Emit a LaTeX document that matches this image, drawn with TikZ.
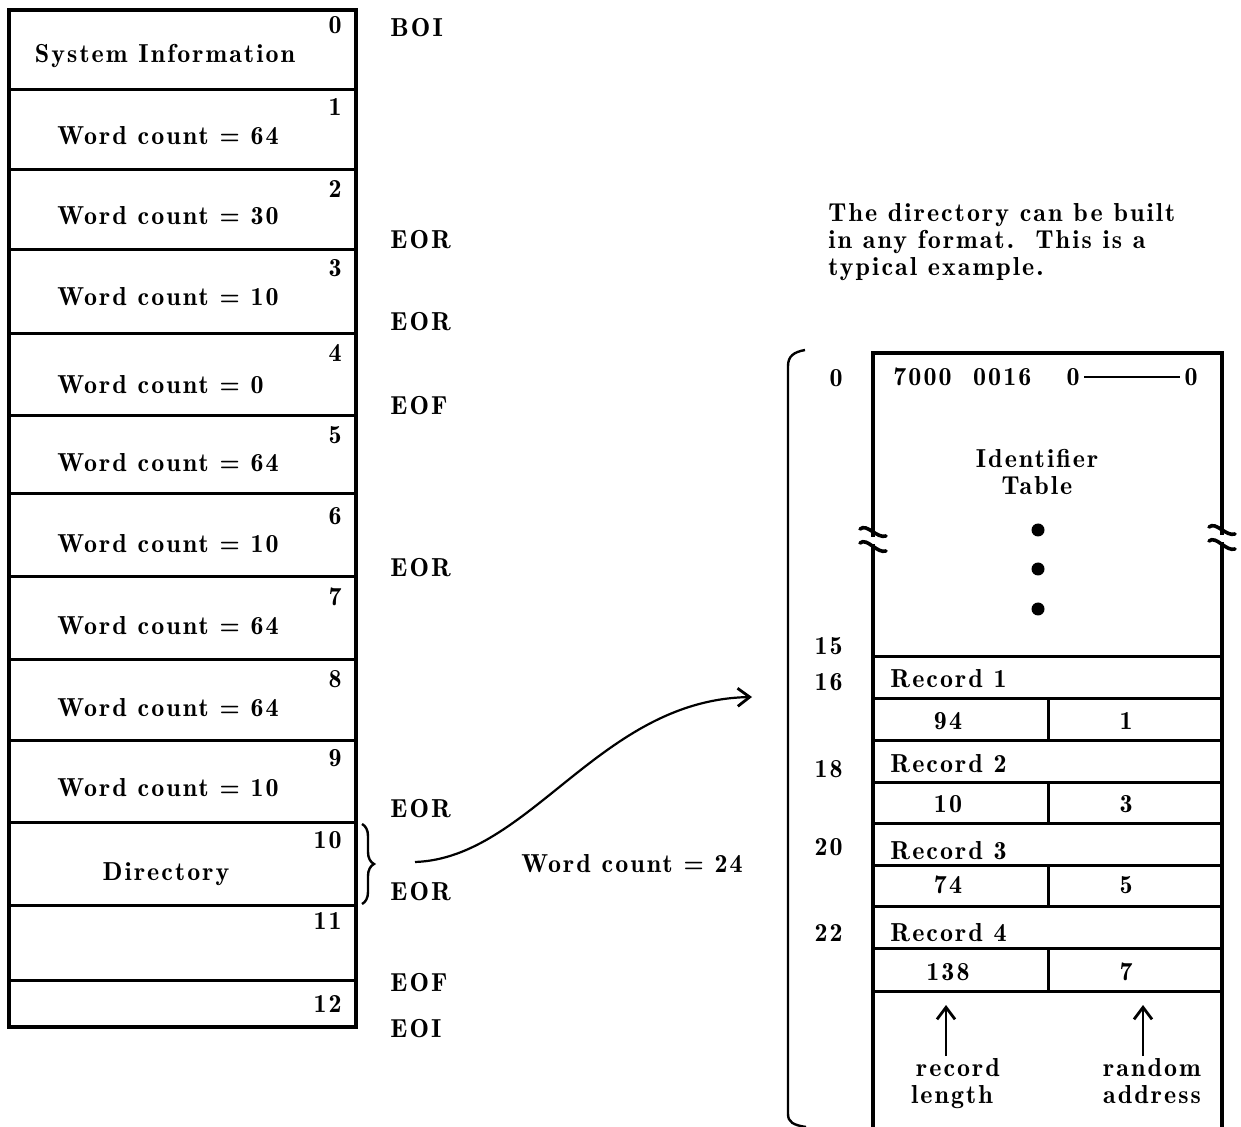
\documentclass[tikz,border=0pt]{standalone}
\usepackage{fontspec}
\newfontfamily\dfont{lmromandemi10-regular.otf}[LetterSpace=8]
\usetikzlibrary{arrows.meta,decorations.pathreplacing}
\begin{document}
\begin{tikzpicture}[x=0.5pt,y=-0.5pt,
  txt/.style={inner sep=0pt,font=\dfont\fontsize{13}{15}\selectfont},
  num/.style={txt,anchor=base east},
  lab/.style={txt,anchor=base west},
  ctr/.style={txt,anchor=base},
  frame/.style={line width=1.6pt},
  rule/.style={line width=1.5pt},
  tip/.style={-{Straight Barb[length=6pt,width=9pt,line width=1.4pt]}}]
\useasboundingbox[fill=white] (0,0) rectangle (1241,1127);

% ---------- left column ----------
\draw[frame] (9,10) rectangle (356,1027);
\foreach \yy in {90,170,250,334,416,494,577,659,740,822,905,980}
  \draw[rule] (9,\yy) -- (356,\yy);

\foreach \n/\yy in {0/34,1/116,2/198,3/277,4/362,5/444,6/525,7/606,8/687,9/766,10/848,11/929,12/1012}
  \node[num] (n\n) at (342,\yy) {\n};

\node[ctr] (sys) at (165,63) {System Information};
\foreach \k/\v/\yy in {1/64/145,2/30/225,3/10/306,4/0/394,5/64/472,6/10/553,7/64/634,8/64/716,9/10/796}
  \node[lab] (w\k) at (57,\yy) {Word count = \v};
\node[ctr] (dir) at (166,880) {Directory};

\foreach \t/\yy [count=\i] in {BOI/37,EOR/249,EOR/331,EOF/415,EOR/577,EOR/817,EOR/900,EOF/991,EOI/1037}
  \node[lab] (m\i) at (390,\yy) {\t};

% brace and connector
\draw[line width=1.2pt,decorate,decoration={brace,amplitude=6pt}] (362,824) -- (362,904);
\coordinate (cs) at (415,862);
\coordinate (ce) at (752,697);
\draw[line width=1.1pt,tip] (cs) .. controls (530,858) and (600,700) .. (ce);
\node[lab] (wc24) at (521,872) {Word count = 24};

% paragraph
\node[lab] (p1) at (828,222) {The directory can be built};
\node[lab] (p2) at (828,249) {in any format.\ \ This is a};
\node[lab] (p3) at (828,276) {typical example.};

% ---------- right directory ----------
\draw[line width=1.2pt] (805,350) .. controls (794,352) and (788,356) .. (788,366) -- (788,1114) .. controls (788,1122) and (793,1125) .. (806,1127);

\draw[frame] (873,1127) -- (873,353) -- (1222,353) -- (1222,1127);
\foreach \yy in {656,698,740,782,823,865,906,948,991}
  \draw[rule] (873,\yy) -- (1222,\yy);
\foreach \ya/\yb in {698/740,782/823,865/906,948/991}
  \draw[rule] (1048,\ya) -- (1048,\yb);

% break marks
\foreach \bx/\by in {873/540,1222/538}{
  \fill[white] (\bx-3,\by-3) rectangle (\bx+3,\by+4);
  \draw[line width=1.8pt,line cap=round] (\bx-13,\by-11) .. controls (\bx-6,\by-17) and (\bx+4,\by-1) .. (\bx+13,\by-4);
  \draw[line width=1.8pt,line cap=round] (\bx-13,\by+3) .. controls (\bx-6,\by-3) and (\bx+4,\by+14) .. (\bx+13,\by+11);
}

\foreach \n/\yy in {0/387,15/654,16/690,18/777,20/855,22/941}
  \node[num] (a\n) at (843,\yy) {\n};

\node[lab] (hdr) at (893,386) {7000\ \ 0016};
\node[ctr] (z1) at (1073,386) {0};
\node[ctr] (z2) at (1191,386) {0};
\coordinate (zl1) at (1084,377);
\coordinate (zl2) at (1180,377);
\draw[line width=1.1pt] (zl1) -- (zl2);

\node[ctr] (id1) at (1037,468) {Identifier};
\node[ctr] (id2) at (1037,495) {Table};
\foreach \yy in {530,569,609} \fill (1038,\yy) circle (6.5);

\foreach \k/\yy in {1/687,2/772,3/859,4/941}
  \node[lab] (rec\k) at (890,\yy) {Record \k};
\foreach \a/\b/\yy [count=\i] in {94/1/729,10/3/812,74/5/893,138/7/980}{
  \node[ctr] (len\i) at (948,\yy) {\a};
  \node[ctr] (adr\i) at (1126,\yy) {\b};
}

\node[ctr] (rl1) at (958,1076) {record};
\node[ctr] (rl2) at (952,1103) {length};
\node[ctr] (ra1) at (1152,1076) {random};
\node[ctr] (ra2) at (1152,1103) {address};
\coordinate (t1) at (946,1005);
\coordinate (t2) at (1143,1005);
\draw[line width=1.3pt,tip] (946,1056) -- (t1);
\draw[line width=1.3pt,tip] (1143,1056) -- (t2);
\end{tikzpicture}
\end{document}
